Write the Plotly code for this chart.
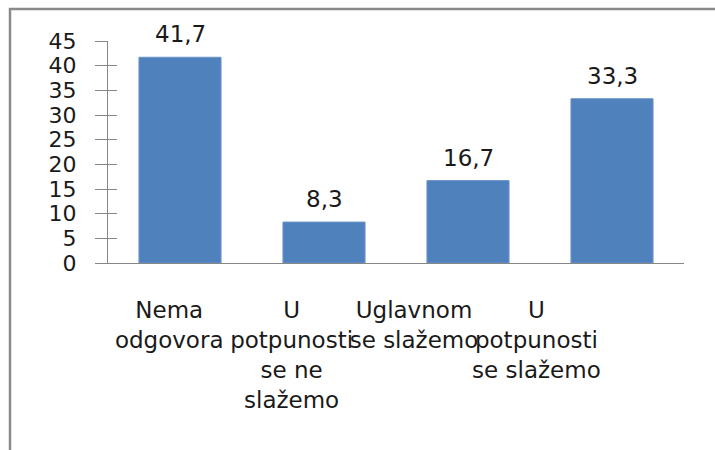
import plotly.graph_objects as go

# Survey responses (percent)
categories = ["Nema odgovora", "U potpunosti se ne slažemo", "Uglavnom se slažemo", "U potpunosti se slažemo"]
tick_text = ["Nema<br>odgovora", "U<br>potpunosti<br>se ne<br>slažemo", "Uglavnom<br>se slažemo", "U<br>potpunosti<br>se slažemo"]
values = [41.7, 8.3, 16.7, 33.3]
y_ticks = [0, 5, 10, 15, 20, 25, 30, 35, 40, 45]

W, H = 715, 450
ML, MR, MT, MB = 108, 31, 41, 187
PW, PH = W - ML - MR, H - MT - MB

def px_x(p):
    return (p - ML) / PW

def px_y(p):
    return (H - MB - p) / PH

FONT = "DejaVu Sans"
AXIS_GREY = "#868686"
TEXT = "#1a1a1a"

fig = go.Figure()
fig.add_trace(go.Bar(
    x=categories, y=values, width=0.57,
    marker=dict(color="#4f81bd", line=dict(color="#6a94c8", width=1)),
    hoverinfo="skip", showlegend=False,
))
# carrier traces for the label axis and the inner tick axis
fig.add_trace(go.Scatter(x=categories, y=[None] * 4, xaxis="x2", yaxis="y",
                         mode="markers", showlegend=False, hoverinfo="skip"))
fig.add_trace(go.Scatter(x=categories, y=[None] * 4, xaxis="x", yaxis="y2",
                         mode="markers", showlegend=False, hoverinfo="skip"))

for c, v in zip(categories, values):
    fig.add_annotation(x=c, y=v, text=f"{v:.1f}".replace(".", ","), showarrow=False,
                       yanchor="middle", yshift=23,
                       font=dict(family=FONT, size=23, color=TEXT))

fig.update_layout(
    width=W, height=H,
    margin=dict(l=ML, r=MR, t=MT, b=MB),
    plot_bgcolor="rgba(0,0,0,0)", paper_bgcolor="white",
    xaxis=dict(type="category", range=[-0.5, 3.5], showticklabels=False, ticks="",
               showline=True, linecolor=AXIS_GREY, linewidth=1, showgrid=False, zeroline=False),
    xaxis2=dict(type="category", range=[-0.5, 3.5], domain=[0, 0.85], anchor="y",
                tickvals=categories, ticktext=tick_text, ticks="", showline=False,
                showgrid=False, zeroline=False, ticklabelstandoff=31, tickangle=0,
                tickfont=dict(family=FONT, size=23, color=TEXT)),
    yaxis=dict(range=[0, 45], tickvals=y_ticks, showline=True, linecolor=AXIS_GREY, linewidth=1,
               ticks="outside", ticklen=12, tickcolor=AXIS_GREY, tickwidth=1,
               showgrid=False, zeroline=False, ticklabelstandoff=14,
               tickfont=dict(family=FONT, size=22, color=TEXT)),
    yaxis2=dict(range=[0, 45], tickvals=y_ticks, overlaying="y", side="left", anchor="x",
                ticks="inside", ticklen=9, tickcolor=AXIS_GREY, tickwidth=1,
                showticklabels=False, showline=False, showgrid=False, zeroline=False),
    shapes=[
        # outer frame (top and left edges visible)
        dict(type="rect", xref="paper", yref="paper",
             x0=px_x(10), x1=px_x(W + 20), y0=px_y(H + 20), y1=px_y(9),
             line=dict(color="#8a8a8a", width=2.5), fillcolor="rgba(0,0,0,0)", layer="above"),
    ],
)

fig.write_html("out.html")
